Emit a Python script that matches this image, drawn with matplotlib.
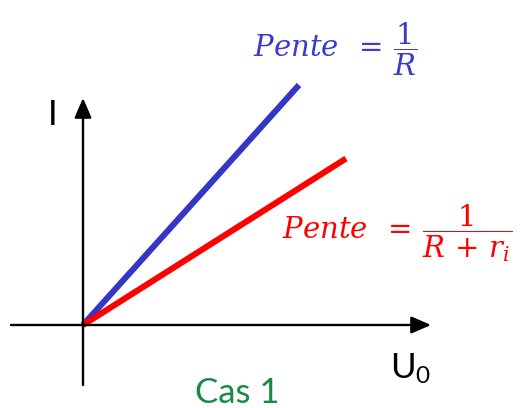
import numpy as np
import matplotlib
matplotlib.use("Agg")
import matplotlib.pyplot as plt

plt.rcParams["font.family"] = ["Lato", "DejaVu Sans"]
plt.rcParams["mathtext.fontset"] = "dejavuserif"

# Circuit values (arbitrary units)
R = 0.90
r_i = 0.68
U0_ideal = np.array([0.0, 2.16])
U0_real = np.array([0.0, 2.63])
I_ideal = U0_ideal / R
I_real = U0_real / (R + r_i)

# Extent of the drawn axes
x_axis = (-0.72, 3.48)
y_axis = (-0.60, 2.27)

fig = plt.figure(figsize=(5.21, 4.08), dpi=100)
ax = fig.add_axes([0, 0, 1, 1])
ax.set_xlim(-0.83, 4.38)
ax.set_ylim(-0.83, 3.25)
ax.axis("off")

arrow = dict(arrowstyle="-|>,head_length=0.6,head_width=0.26", mutation_scale=20,
             lw=1.7, color="black", shrinkA=0, shrinkB=0)
ax.annotate("", xy=(x_axis[1], 0), xytext=(x_axis[0], 0), arrowprops=arrow)
ax.annotate("", xy=(0, y_axis[1]), xytext=(0, y_axis[0]), arrowprops=arrow)

ax.plot(U0_ideal, I_ideal, color="#3535C8", lw=4.4, solid_capstyle="butt")
ax.plot(U0_real, I_real, color="#FF0000", lw=4.4, solid_capstyle="butt")

ax.text(-0.30, 2.00, "I", fontsize=25, ha="center", va="baseline")
ax.text(3.07, -0.53, r"U$_\mathregular{0}$", fontsize=25, ha="left", va="baseline")
ax.text(1.54, -0.78, "Cas 1", fontsize=25, color="#178B45", ha="center", va="baseline")

ax.text(1.70, 2.76, r"$Pente\;\;=\,\dfrac{1}{R}$", fontsize=21, color="#3B3BCB",
        ha="left", va="center")
ax.text(1.99, 0.92, r"$Pente\;\;=\,\dfrac{1}{R\,+\,r_i}$", fontsize=21, color="#FF0000",
        ha="left", va="center")

fig.savefig("out.png", dpi=100)
